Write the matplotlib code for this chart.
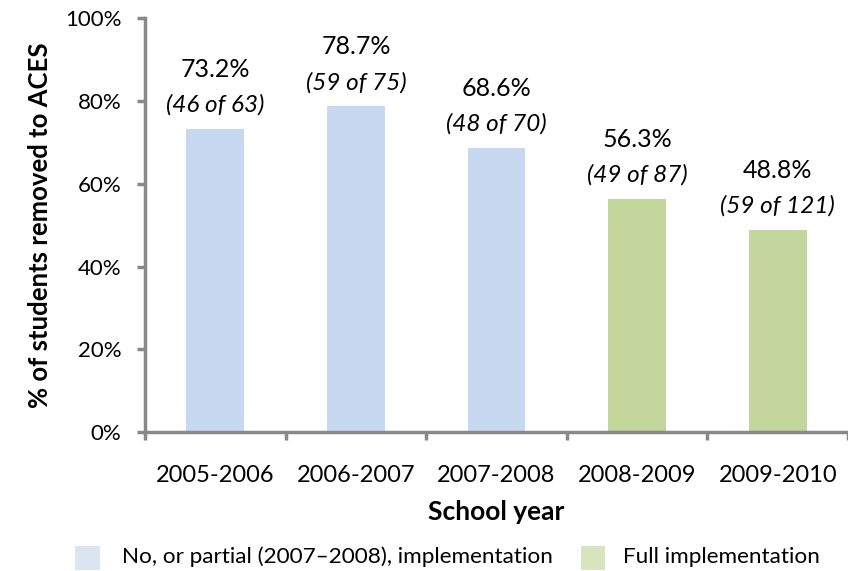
import matplotlib

matplotlib.use("Agg")
import matplotlib.pyplot as plt
from matplotlib.patches import Rectangle

plt.rcParams["font.family"] = ["Lato", "DejaVu Sans"]

years = ["2005-2006", "2006-2007", "2007-2008", "2008-2009", "2009-2010"]
pct = [73.2, 78.7, 68.6, 56.3, 48.8]
counts = ["(46 of 63)", "(59 of 75)", "(48 of 70)", "(49 of 87)", "(59 of 121)"]
full_impl = [False, False, False, True, True]
legend_labels = ["No, or partial (2007\u20132008), implementation", "Full implementation"]

BLUE, GREEN = "#c6d9f1", "#c3d69b"
BLUE_LEG, GREEN_LEG = "#dbe5f1", "#d7e4bc"
AXIS = "#898989"

fig = plt.figure(figsize=(8.48, 5.71), dpi=100)
ax = fig.add_axes([0.171, 0.2434, 0.829, 0.7246])

colors = [GREEN if f else BLUE for f in full_impl]
x = range(len(years))
ax.bar(x, pct, width=0.41, color=colors, zorder=2)

# value + count labels above each bar
for i, (p, c) in enumerate(zip(pct, counts)):
    ax.text(i, p + 14.5, f"{p:.1f}%", ha="center", va="center", fontsize=18)
    ax.text(i, p + 5.8, c, ha="center", va="center", fontsize=17.5, style="italic")

ax.set_xlim(-0.5, len(years) - 0.5)
ax.set_ylim(0, 100)
ax.set_yticks(range(0, 101, 20))
ax.set_yticklabels([f"{v}%" for v in range(0, 101, 20)], fontsize=16)
ax.set_xticks(list(x))
ax.set_xticklabels(years, fontsize=17)
ax.tick_params(axis="x", length=0, pad=24)
ax.set_xticks([i - 0.5 for i in range(len(years) + 1)], minor=True)
ax.tick_params(axis="x", which="minor", length=6, width=2.5, color=AXIS)
ax.tick_params(axis="y", length=6, width=2.5, color=AXIS, pad=11)

for side in ("top", "right"):
    ax.spines[side].set_visible(False)
for side in ("left", "bottom"):
    ax.spines[side].set_color(AXIS)
    ax.spines[side].set_linewidth(2.5)

ax.set_xlabel("School year", fontsize=19, fontweight="bold", labelpad=10)
ax.set_ylabel("% of students removed to ACES", fontsize=18.5, fontweight="bold", labelpad=9)

# legend drawn by hand to sit where the original's does
for (px, tx), col, lab in zip([(0.0884, 0.1439), (0.685, 0.735)], [BLUE_LEG, GREEN_LEG], legend_labels):
    fig.add_artist(Rectangle((px, 0.002), 0.029, 0.042, transform=fig.transFigure,
                             color=col, lw=0))
    fig.text(tx, 0.025, lab, ha="left", va="center", fontsize=16.2)

fig.savefig("out.png", dpi=100)
